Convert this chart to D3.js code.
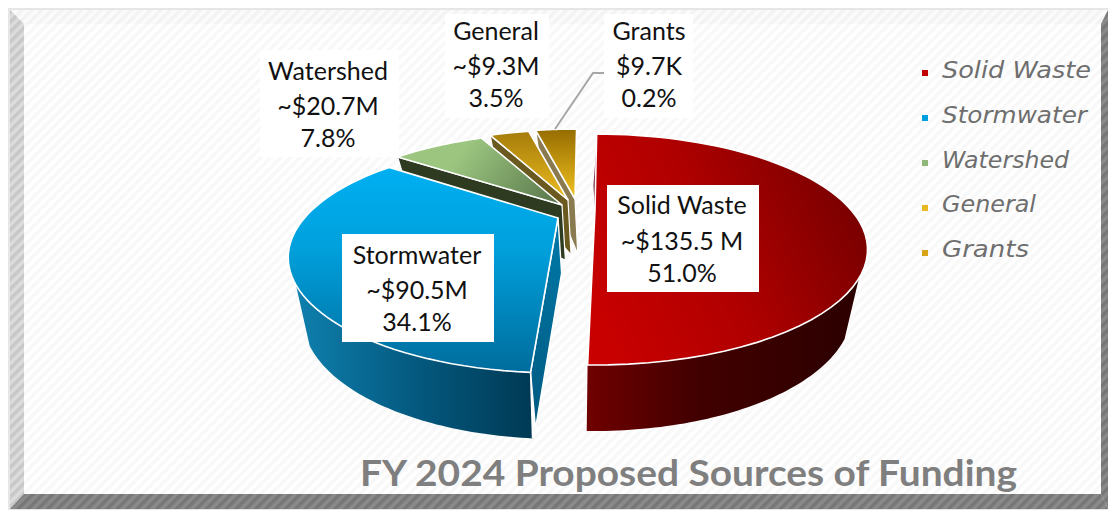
<!DOCTYPE html>
<html><head><meta charset="utf-8">
<script src="https://cdn.jsdelivr.net/npm/d3@7/dist/d3.min.js"></script>
<style>html,body{margin:0;padding:0;background:#fff}svg{display:block}</style>
</head><body><svg id="c" width="1110" height="510"></svg>
<script>
// Data
const categories = ["Solid Waste","Stormwater","Watershed","General","Grants"];
const drawnMillions = [135.5,90.5,20.7,9.3,9.7];
const amountLabels = ["~$135.5 M","~$90.5M","~$20.7M","~$9.3M","$9.7K"];
const percentLabels = ["51.0%","34.1%","7.8%","3.5%","0.2%"];
const titleText = "FY 2024 Proposed Sources of Funding";

// Layout
const apexes = [[595,210],[558,218],[562,205],[568,200],[575,199]];
const radialX = [0.985,0.975,0.95,0.92,0.92];
const radialY = [1,1,0.95,0.92,0.92];
const endTrim = [3,0,0,0,0];
const boxes = [[607,185,152,107,682,[214,250,282]],[342,234,152,108,417,[264,299,331]],[260,50,139,107,328,[80,115,147]],[445,14,104,104,496,[40,75,107]],[604,14,89,104,649,[40,75,107]]];
const legendY = [73,118,163,208,253], legendBase=[78,123,168,212,257], legendW=[149,145,127,94,87];
const legendCol = ["#c00000","#00a0e0","#8fb878","#e8b820","#d8a418"];
const A=260,B=102,k=0.342,vx=570,shrink=0.95,rot=0.5;

const svg=d3.select("#c"), defs=svg.append("defs");
function hatch(id,bg,fg,size,w){
  const p=defs.append("pattern").attr("id",id).attr("patternUnits","userSpaceOnUse").attr("width",size).attr("height",size).attr("patternTransform","rotate(45)");
  p.append("rect").attr("width",size).attr("height",size).attr("fill",bg);
  p.append("rect").attr("width",w).attr("height",size).attr("fill",fg);
}
hatch("hBg","#ffffff","#f8f8f8",7,3.5);
hatch("hLeft","#dcdcdc","#c8c8c8",7,3.5);
hatch("hTop","#fbfbfb","#f3f3f3",7,3.5);
hatch("hDark","#8a8a8a","#777777",7,3.5);
function grad(id,x1,y1,x2,y2,stops){
  const g=defs.append("linearGradient").attr("id",id).attr("gradientUnits","userSpaceOnUse").attr("x1",x1).attr("y1",y1).attr("x2",x2).attr("y2",y2);
  stops.forEach(s=>g.append("stop").attr("offset",s[0]).attr("stop-color",s[1]));
}
grad("gTop0",600,320,870,200,[[0,"#c80000"],[0.45,"#b00000"],[1,"#740000"]]);
grad("gWall0",586,0,860,0,[[0,"#700000"],[0.4,"#420000"],[1,"#2c0000"]]);
grad("gTop1",0,165,0,373,[[0,"#00b0f2"],[0.4,"#00a0dc"],[1,"#006c9c"]]);
grad("gWall1",295,0,530,0,[[0,"#0f80ae"],[0.5,"#045a80"],[1,"#003a55"]]);
grad("gRad1",0,225,0,425,[[0,"#0078a8"],[1,"#005a80"]]);
grad("gTop2",470,140,550,205,[[0,"#9cc680"],[1,"#5c7a4e"]]);
grad("gTop3",0,132,0,200,[[0,"#a67c0a"],[1,"#ecbc20"]]);
grad("gTop4",0,129,0,200,[[0,"#956c00"],[1,"#f4c420"]]);
const sideCol=[null,null,"#2f3b20","#6b5a20","#8a7a50"];

// Frame
const poly=(pts,fill)=>svg.append("polygon").attr("points",pts.join(" ")).attr("fill",fill);
svg.append("rect").attr("x",8).attr("y",8).attr("width",1100).attr("height",502).attr("fill","#e6e6e6");
poly([[10,10],[1108,10],[1101,24],[24,24]],"url(#hTop)");
poly([[10,10],[24,24],[24,494],[10,509]],"url(#hLeft)");
poly([[1108,10],[1101,24],[1101,494],[1108,509]],"url(#hDark)");
poly([[24,494],[1101,494],[1108,509],[10,509]],"url(#hDark)");
svg.append("rect").attr("x",24).attr("y",24).attr("width",1077).attr("height",470).attr("fill","url(#hBg)");

// Pie geometry through d3.pie and a perspective projection
const arcs=d3.pie().sort(null)(drawnMillions);
const rad=d=>d*Math.PI/180, rotR=rad(rot);
function pt(i,th,f=1){
  const X=f*Math.sin(th), Y=-f*Math.cos(th), w=1-k*Y;
  return {x:apexes[i][0]+radialX[i]*A*X/w, y:apexes[i][1]+radialY[i]*B*Y/w, Y};
}
function low(p){return {x:vx+shrink*(p.x-vx), y:p.y+55+11*p.Y};}
const pathLine=d3.line().x(p=>p.x).y(p=>p.y);
function arcPts(i,a,b){return d3.range(0,61).map(j=>pt(i,a+(b-a)*j/60));}
const pieG=svg.append("g");
function shape(pts,fill,sw=1.6){
  pieG.append("path").attr("d",pathLine(pts)+"Z").attr("fill",fill).attr("stroke","#fff").attr("stroke-width",sw).attr("stroke-linejoin","round");
}
function ang(i){return [arcs[i].startAngle+rotR, arcs[i].endAngle+rotR-rad(endTrim[i])];}
function apexPt(i){return {x:apexes[i][0],y:apexes[i][1],Y:0};}
function radialWall(i,th,fill,sw){
  const r=pt(i,th),a=apexPt(i),lowA=low(a); lowA.x+=3;
  const lr=low(r); lr.x+=3; lr.y-=10;
  shape([r,a,lowA,lr],fill,sw);
}
function topFace(i,fill){const [a,b]=ang(i); shape([apexPt(i),...arcPts(i,a,b)],fill);}
// back to front
[4,3,2].forEach(i=>{radialWall(i,ang(i)[0],sideCol[i],1.2); topFace(i,`url(#gTop${i})`);});
// Stormwater
{const [a,b]=ang(1);
 radialWall(1,a,"url(#gRad1)",1.4);
 const rim=arcPts(1,a,rad(237.6));
 pieG.append("path").attr("d",pathLine([...rim,...rim.map(low).reverse()])+"Z").attr("fill","url(#gWall1)");
 pieG.append("path").attr("d",pathLine([pt(1,a),low(pt(1,a))])).attr("stroke","#fff").attr("stroke-width",1.4);
 topFace(1,"url(#gTop1)");}
// Solid Waste
{const [a,b]=ang(0);
 const rim=arcPts(0,rad(123),b);
 pieG.append("path").attr("d",pathLine([...rim,...rim.map(low).reverse()])+"Z").attr("fill","url(#gWall0)");
 const s0=pt(0,a,0.8), s1=pt(0,a,0.02);
 pieG.append("path").attr("d",pathLine([s0,{x:s0.x-3,y:s0.y+40},{x:s1.x+1,y:s1.y+16},{x:s0.x,y:s0.y+40}])+"Z").attr("fill","#7a2a35");
 topFace(0,"url(#gTop0)");}

// Leader
svg.append("path").attr("d",d3.line()([[555,129],[593,73],[604,73]])).attr("fill","none").attr("stroke","#a6a6a6").attr("stroke-width",2);

// Data labels
const labelFont='"Comic Sans MS","Lato",sans-serif';
categories.forEach((c,i)=>{
  const b=boxes[i];
  svg.append("rect").attr("x",b[0]).attr("y",b[1]).attr("width",b[2]).attr("height",b[3]).attr("fill","#fff");
  [c,amountLabels[i],percentLabels[i]].forEach((t,j)=>{
    svg.append("text").attr("x",b[4]).attr("y",b[5][j]).attr("text-anchor","middle")
      .attr("font-family",labelFont).attr("font-size",25).attr("fill","#111").text(t);
  });
});
// Legend
categories.forEach((c,i)=>{
  svg.append("rect").attr("x",922).attr("y",legendY[i]-3).attr("width",6).attr("height",6).attr("fill",legendCol[i]);
  svg.append("text").attr("x",942).attr("y",legendBase[i]).attr("font-family","'DejaVu Sans',sans-serif").attr("font-style","italic")
    .attr("font-size",23).attr("fill","#6e6e6e").attr("textLength",legendW[i]).attr("lengthAdjust","spacingAndGlyphs").text(c);
});
// Title
svg.append("text").attr("x",360).attr("y",486).attr("font-family","Lato,'Open Sans',sans-serif").attr("font-weight",700)
  .attr("font-size",36).attr("fill","#7f7f7f").attr("textLength",657).attr("lengthAdjust","spacingAndGlyphs").text(titleText);
</script></body></html>
